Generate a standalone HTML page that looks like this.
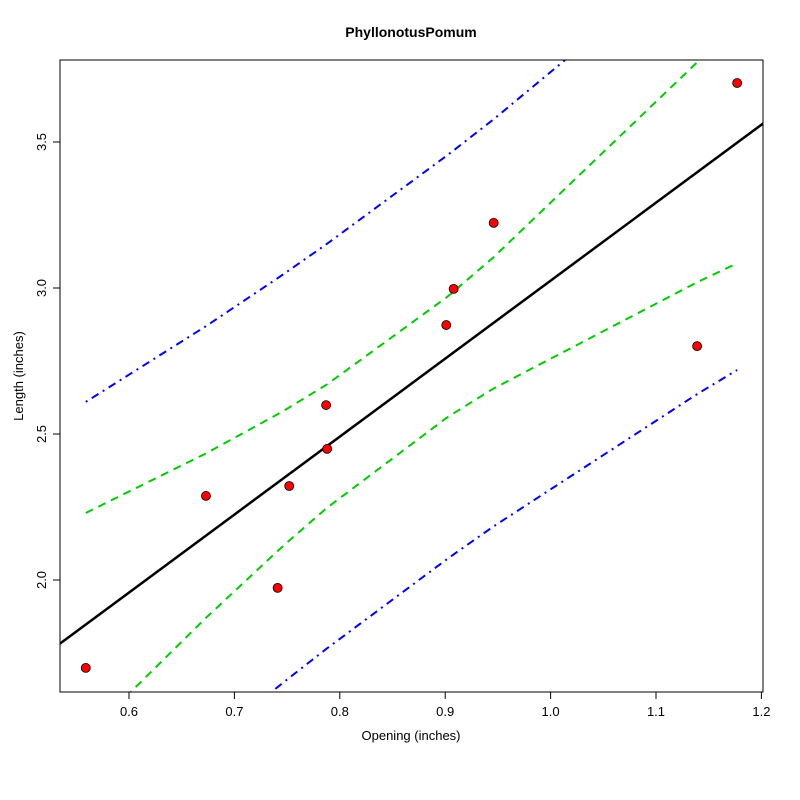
<!DOCTYPE html>
<html><head><meta charset="utf-8"><style>
html,body{margin:0;padding:0;background:#fff;overflow:hidden;width:800px;height:800px}
svg{display:block}
text{font-family:"Liberation Sans",Arial,sans-serif}
</style></head><body>
<svg id="chart" width="800" height="800" xmlns="http://www.w3.org/2000/svg">
<rect width="800" height="800" fill="#fff"/>
<text x="411" y="37" text-anchor="middle" font-size="14" font-weight="bold">PhyllonotusPomum</text>
<text x="411" y="740" text-anchor="middle" font-size="13">Opening (inches)</text>
<text transform="translate(23,376) rotate(-90)" text-anchor="middle" font-size="13">Length (inches)</text>
<defs><clipPath id="pc"><rect x="60" y="60" width="703" height="632"/></clipPath></defs>
<g id="xaxis"></g>
<g id="yaxis"></g>
<g id="plot" clip-path="url(#pc)"></g>
<g id="pts"></g>
<rect x="60" y="60" width="703" height="632" fill="none" stroke="#000" stroke-width="1"/>
</svg>
<script>
const xs=[0.559,0.673,0.741,0.752,0.787,0.788,0.901,0.908,0.946,1.139,1.177];
const ys=[1.699,2.288,1.973,2.322,2.599,2.449,2.873,2.997,3.223,2.801,3.702];
const xTicks=[0.6,0.7,0.8,0.9,1.0,1.1,1.2];
const xTickLabels=["0.6","0.7","0.8","0.9","1.0","1.1","1.2"];
const yTicks=[2.0,2.5,3.0,3.5];
const yTickLabels=["2.0","2.5","3.0","3.5"];
const tCrit=2.262;
const NS="http://www.w3.org/2000/svg";
const X=v=>129+(v-0.6)*1054, Y=v=>580-(v-2)*292;
function mk(t,a,p){const e=document.createElementNS(NS,t);for(const k in a)e.setAttribute(k,a[k]);p.appendChild(e);return e;}
const xa=document.getElementById('xaxis'),ya=document.getElementById('yaxis');
xTicks.forEach((v,i)=>{const l=mk('line',{x1:X(v),x2:X(v),y1:692,y2:699,stroke:'#000'},xa);


const t=mk('text',{x:X(v),y:716,'text-anchor':'middle','font-size':'13'},xa);t.textContent=xTickLabels[i];

});
yTicks.forEach((v,i)=>{const l=mk('line',{x1:53,x2:60,y1:Y(v),y2:Y(v),stroke:'#000'},ya);


const t=mk('text',{transform:`translate(46,${Y(v)}) rotate(-90)`,'text-anchor':'middle','font-size':'13'},ya);t.textContent=yTickLabels[i];

});
const n=xs.length,mx=xs.reduce((a,b)=>a+b)/n,my=ys.reduce((a,b)=>a+b)/n;
let sxx=0,sxy=0;xs.forEach((x,i)=>{sxx+=(x-mx)**2;sxy+=(x-mx)*(ys[i]-my);});
const b=sxy/sxx,a=my-b*mx;let sse=0;xs.forEach((x,i)=>{sse+=(ys[i]-a-b*x)**2;});
const s=Math.sqrt(sse/(n-2));
const plot=document.getElementById('plot');
const fl=mk('line',{x1:X(0.4),y1:Y(a+b*0.4),x2:X(1.4),y2:Y(a+b*1.4),stroke:'#000','stroke-width':2.5},plot);


const sx=[...xs].sort((p,q)=>p-q);
function band(sign,pred,col,dash,name){const pts=sx.map(x=>{const se=s*Math.sqrt((pred?1:0)+1/n+(x-mx)**2/sxx);return X(x)+','+Y(a+b*x+sign*tCrit*se);}).join(' ');
const e=mk('polyline',{points:pts,fill:'none',stroke:col,'stroke-width':2,'stroke-dasharray':dash},plot);

}
band(1,false,'#00cc00','8,6','confidence-upper');band(-1,false,'#00cc00','8,6','confidence-lower');
band(1,true,'#0000ff','2,5,8,5','prediction-upper');band(-1,true,'#0000ff','2,5,8,5','prediction-lower');
const pg=document.getElementById('pts');
xs.forEach((x,i)=>{const c=mk('circle',{cx:X(x),cy:Y(ys[i]),r:4.5,fill:'#ff0000',stroke:'#000','stroke-width':0.8},pg);

});
</script>
</body></html>
